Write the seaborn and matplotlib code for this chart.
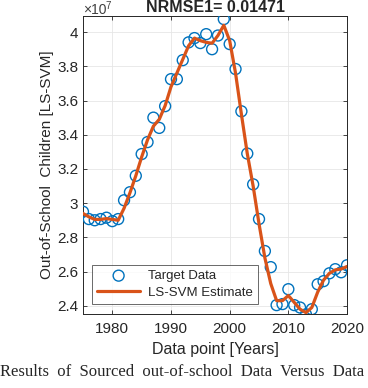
import numpy as np
import pandas as pd
import matplotlib
matplotlib.use("Agg")
import matplotlib.pyplot as plt
import seaborn as sns
from matplotlib.ticker import FuncFormatter

years = list(range(1975, 2021))
target = [2.95, 2.907, 2.90, 2.907, 2.915, 2.895, 2.907, 3.017, 3.064, 3.16,
          3.287, 3.357, 3.50, 3.44, 3.567, 3.725, 3.725, 3.836, 3.94, 3.965,
          3.936, 3.988, 3.90, 3.98, 4.076, 3.93, 3.784, 3.537, 3.29, 3.11,
          2.907, 2.72, 2.626, 2.404, 2.41, 2.497, 2.404, 2.39, 2.35, 2.38,
          2.526, 2.544, 2.59, 2.614, 2.596, 2.637]
estimate = [2.94, 2.92, 2.905, 2.905, 2.91, 2.905, 2.90, 2.97, 3.06, 3.16,
            3.27, 3.37, 3.45, 3.49, 3.57, 3.68, 3.76, 3.84, 3.92, 3.965,
            3.95, 3.94, 3.935, 3.98, 4.04, 3.95, 3.76, 3.52, 3.29, 3.10,
            2.88, 2.68, 2.53, 2.43, 2.43, 2.46, 2.42, 2.38, 2.36, 2.39,
            2.48, 2.55, 2.59, 2.61, 2.615, 2.63]
yticks = [2.4, 2.6, 2.8, 3.0, 3.2, 3.4, 3.6, 3.8, 4.0]

df = pd.DataFrame({"year": years,
                   "target": np.array(target) * 1e7,
                   "estimate": np.array(estimate) * 1e7})

sns.set_style("ticks")
plt.rcParams['font.family'] = ['Liberation Sans', 'DejaVu Sans']

fig = plt.figure(figsize=(3.68, 3.88), dpi=100)
ax = fig.add_axes([0.2255, 0.1907, 0.7175, 0.768])

sns.scatterplot(data=df, x="year", y="target", ax=ax, marker='o', s=62,
                facecolors='none', edgecolor='#0072BD', linewidth=1.0,
                label='Target Data', zorder=3)
sns.lineplot(data=df, x="year", y="estimate", ax=ax, color='#D95319',
             linewidth=2.3, label='LS-SVM Estimate', zorder=4)

ax.set_xlim(1975, 2020)
ax.set_ylim(2.352e7, 4.094e7)
ax.set_xticks([1980, 1990, 2000, 2010, 2020])
ax.set_yticks(np.array(yticks) * 1e7)
ax.yaxis.set_major_formatter(FuncFormatter(lambda v, p: f'{v / 1e7:g}'))

# exponent label, MATLAB style, drawn as two plain texts so it stays inside
ax.annotate('\u00d710', xy=(0, 1), xycoords='axes fraction', xytext=(0, 1.2),
            textcoords='offset points', fontsize=10, color='#404040',
            ha='left', va='baseline')
ax.annotate('7', xy=(0, 1), xycoords='axes fraction', xytext=(16, 5),
            textcoords='offset points', fontsize=7, color='#404040',
            ha='left', va='baseline')

ax.grid(True, color='#e6e6e6', linewidth=0.6)
ax.tick_params(direction='in', top=True, right=True, labelsize=11,
               colors='#262626', length=3, width=0.6)
ax.tick_params(axis='x', pad=6)
for sp in ax.spines.values():
    sp.set_color('#262626')
    sp.set_linewidth(0.7)

ax.set_title('NRMSE1= 0.01471', fontsize=11.5, fontweight='bold', pad=3)
ax.set_xlabel('Data point [Years]', fontsize=11.5, color='#262626', labelpad=4)
ax.set_ylabel('Out-of-School  Children [LS-SVM]', fontsize=11, color='#262626',
              labelpad=2)

leg = ax.legend(loc='lower left', bbox_to_anchor=(0.035, 0.035), fontsize=9.5,
                frameon=True, fancybox=False, edgecolor='#262626',
                handlelength=3.3, handletextpad=0.6, borderpad=0.35,
                labelspacing=0.35, borderaxespad=0)
leg.get_frame().set_linewidth(0.6)

fig.text(0.0, 0.02, 'Results  of  Sourced  out-of-school  Data  Versus  Data',
         family='Liberation Serif', fontsize=12, ha='left', va='bottom')

fig.savefig('out.png', dpi=100)
